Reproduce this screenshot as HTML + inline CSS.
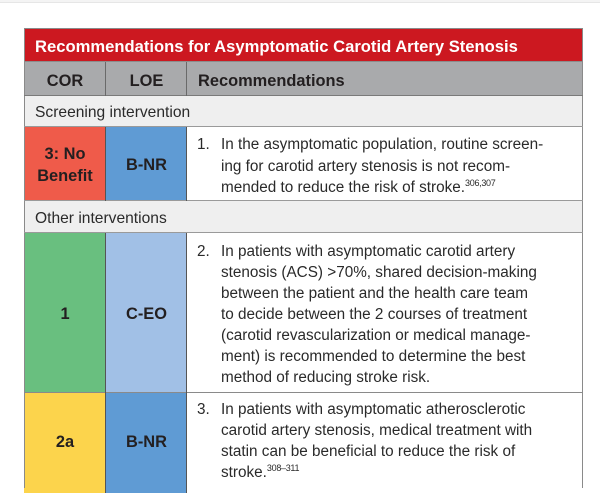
<!DOCTYPE html>
<html><head><meta charset="utf-8">
<style>
html,body{margin:0;padding:0;}
body{width:600px;height:487px;overflow:hidden;background:#fff;position:relative;font-family:"Liberation Sans",Arial,sans-serif;}
.r{position:absolute;}
.t{position:absolute;white-space:nowrap;line-height:1;color:#231f20;}
.b{font-weight:bold;}
.body{font-size:15.3px;color:#2a2a2a;}
.c{text-align:center;}
sup{font-size:9px;vertical-align:0;position:relative;top:-6px;letter-spacing:-0.3px;}
</style></head><body>
<!-- top strip -->
<div class="r" style="left:0;top:0;width:600px;height:2px;background:#f4f4f4"></div>
<div class="r" style="left:0;top:2px;width:600px;height:1px;background:#e6e6e6"></div>

<!-- backgrounds -->
<div class="r" style="left:24px;top:28px;width:559px;height:34px;background:#cc1820"></div>
<div class="r" style="left:24px;top:62px;width:559px;height:34px;background:#a9aaac"></div>
<div class="r" style="left:24px;top:96px;width:559px;height:31px;background:#efefef"></div>
<div class="r" style="left:24px;top:127px;width:82px;height:74px;background:#ef5b4a"></div>
<div class="r" style="left:106px;top:127px;width:81px;height:74px;background:#5f9bd4"></div>
<div class="r" style="left:24px;top:201px;width:559px;height:32px;background:#efefef"></div>
<div class="r" style="left:24px;top:233px;width:82px;height:160px;background:#69bf7f"></div>
<div class="r" style="left:106px;top:233px;width:81px;height:160px;background:#a1c0e6"></div>
<div class="r" style="left:24px;top:393px;width:82px;height:100px;background:#fcd44c"></div>
<div class="r" style="left:106px;top:393px;width:81px;height:100px;background:#5f9bd4"></div>

<!-- borders -->
<div class="r" style="left:24px;top:28px;width:559px;height:1px;background:#8a8a8a"></div>
<div class="r" style="left:24px;top:28px;width:1px;height:460px;background:#8a8a8a"></div>
<div class="r" style="left:582px;top:28px;width:1px;height:460px;background:#8a8a8a"></div>
<div class="r" style="left:24px;top:61px;width:559px;height:1px;background:#8c8c8c"></div>
<div class="r" style="left:24px;top:95px;width:559px;height:1px;background:#7a7a7a"></div>
<div class="r" style="left:24px;top:126px;width:559px;height:1px;background:#9a9a9a"></div>
<div class="r" style="left:24px;top:200px;width:559px;height:1px;background:#9a9a9a"></div>
<div class="r" style="left:24px;top:232px;width:559px;height:1px;background:#9a9a9a"></div>
<div class="r" style="left:24px;top:392px;width:559px;height:1px;background:#8a8a8a"></div>
<!-- vertical column lines -->
<div class="r" style="left:105px;top:62px;width:1px;height:34px;background:#6a6a6a"></div>
<div class="r" style="left:186px;top:62px;width:1px;height:34px;background:#6a6a6a"></div>
<div class="r" style="left:105px;top:127px;width:1px;height:74px;background:#555"></div>
<div class="r" style="left:186px;top:127px;width:1px;height:74px;background:#555"></div>
<div class="r" style="left:105px;top:233px;width:1px;height:260px;background:#555"></div>
<div class="r" style="left:186px;top:233px;width:1px;height:260px;background:#555"></div>

<!-- header texts -->
<div class="t b" style="left:35px;top:39.3px;font-size:16.6px;color:#fff">Recommendations for Asymptomatic Carotid Artery Stenosis</div>
<div class="t b c" style="left:24px;width:82px;top:72.8px;font-size:16.4px">COR</div>
<div class="t b c" style="left:106px;width:81px;top:72.8px;font-size:16.4px">LOE</div>
<div class="t b" style="left:198px;top:72.8px;font-size:16.4px">Recommendations</div>

<div class="t" style="left:35px;top:105.1px;font-size:15.6px;color:#2a2a2a">Screening intervention</div>
<div class="t" style="left:35px;top:210.8px;font-size:15.6px;color:#2a2a2a">Other interventions</div>

<!-- cell labels -->
<div class="t b c" style="left:24px;width:82px;top:146.1px;font-size:16.4px">3: No</div>
<div class="t b c" style="left:24px;width:82px;top:167.8px;font-size:16.4px">Benefit</div>
<div class="t b c" style="left:106px;width:81px;top:156.8px;font-size:16.4px">B-NR</div>

<div class="t b c" style="left:24px;width:82px;top:306.1px;font-size:16.4px">1</div>
<div class="t b c" style="left:106px;width:81px;top:306.1px;font-size:16.4px">C-EO</div>

<div class="t b c" style="left:24px;width:82px;top:433.8px;font-size:16.4px">2a</div>
<div class="t b c" style="left:106px;width:81px;top:433.8px;font-size:16.4px">B-NR</div>

<!-- row 1 text -->
<div class="t body" style="left:197px;top:137px">1.</div>
<div class="t body" style="left:221px;top:137px">In the asymptomatic population, routine screen-</div>
<div class="t body" style="left:221px;top:158.5px">ing for carotid artery stenosis is not recom-</div>
<div class="t body" style="left:221px;top:180px">mended to reduce the risk of stroke.<sup>306,307</sup></div>

<!-- row 2 text -->
<div class="t body" style="left:197px;top:243.7px">2.</div>
<div class="t body" style="left:221px;top:243.7px">In patients with asymptomatic carotid artery</div>
<div class="t body" style="left:221px;top:264.8px">stenosis (ACS) &gt;70%, shared decision-making</div>
<div class="t body" style="left:221px;top:285.9px">between the patient and the health care team</div>
<div class="t body" style="left:221px;top:307px">to decide between the 2 courses of treatment</div>
<div class="t body" style="left:221px;top:328.1px">(carotid revascularization or medical manage-</div>
<div class="t body" style="left:221px;top:349.2px">ment) is recommended to determine the best</div>
<div class="t body" style="left:221px;top:370.3px">method of reducing stroke risk.</div>

<!-- row 3 text -->
<div class="t body" style="left:197px;top:402px">3.</div>
<div class="t body" style="left:221px;top:402px">In patients with asymptomatic atherosclerotic</div>
<div class="t body" style="left:221px;top:423px">carotid artery stenosis, medical treatment with</div>
<div class="t body" style="left:221px;top:444px">statin can be beneficial to reduce the risk of</div>
<div class="t body" style="left:221px;top:465px">stroke.<sup>308–311</sup></div>
</body></html>
